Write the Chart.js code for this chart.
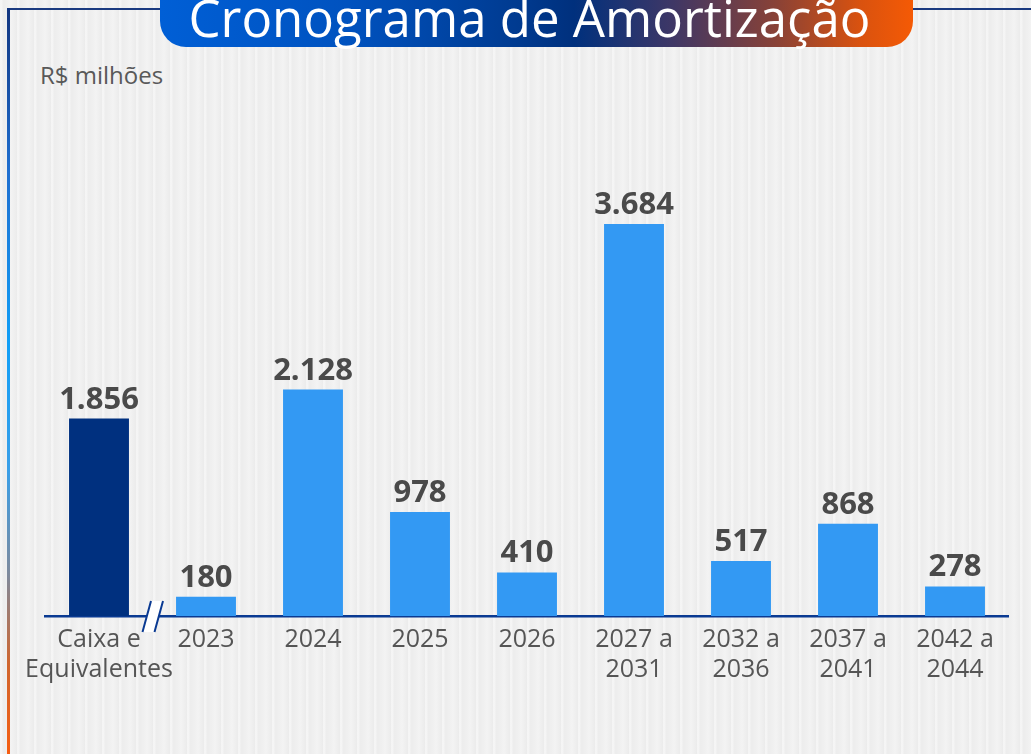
<!DOCTYPE html>
<html>
<head>
<meta charset="utf-8">
<script src="https://cdn.jsdelivr.net/npm/chart.js@4.4.0/dist/chart.umd.min.js"></script>
<style>
  html, body { margin: 0; padding: 0; }
  body {
    width: 1031px; height: 754px; overflow: hidden; position: relative;
    background-color: #efefef;
    background-image: repeating-linear-gradient(90deg, rgba(255,255,255,0.35) 0px, rgba(255,255,255,0.35) 2px, rgba(0,0,0,0.012) 3px, rgba(0,0,0,0.0) 7px, rgba(255,255,255,0.25) 11px, rgba(0,0,0,0.015) 17px);
    font-family: "Open Sans", sans-serif;
  }
  #frameTop { position: absolute; left: 8px; top: 8px; width: 1023px; height: 2px; background: #1a3a80; }
  #frameLeft { position: absolute; left: 7px; top: 8px; width: 3px; height: 746px;
    background: linear-gradient(180deg, #12357f 0%, #1f6fd0 22%, #119ff7 45%, #3a9fe8 62%, #7f8a9c 76%, #d0662f 88%, #f55e12 100%); }
  #pill { position: absolute; left: 160px; top: -40px; width: 753px; height: 87px; border-radius: 0 0 26px 26px;
    background: linear-gradient(90deg, #005fd6 0%, #0052bf 25%, #003a8f 48%, #00307d 55%, #3e3766 68%, #8a4236 82%, #d9520f 93%, #f55a05 100%);
    overflow: hidden; }
  #title { position: absolute; left: 153px; top: -15px; width: 753px; text-align: center; color: #ffffff;
    font-family: "Open Sans", sans-serif; font-size: 51px; line-height: 64px; white-space: nowrap; }
  #unit { position: absolute; left: 40px; top: 59px; color: #595959; font-size: 24px; line-height: 32px; }
  #c { position: absolute; left: 0; top: 0; }
</style>
</head>
<body>
<div id="frameTop"></div>
<div id="frameLeft"></div>
<div id="pill"></div>
<div id="title">Cronograma de Amortização</div>
<div id="unit">R$ milhões</div>
<canvas id="c" width="1031" height="754"></canvas>
<script>
const categories = [["Caixa e", "Equivalentes"], "2023", "2024", "2025", "2026", ["2027 a", "2031"], ["2032 a", "2036"], ["2037 a", "2041"], ["2042 a", "2044"]];
const values = [1856, 180, 2128, 978, 410, 3684, 517, 868, 278];
const barColors = ["#00307f", "#3399f3", "#3399f3", "#3399f3", "#3399f3", "#3399f3", "#3399f3", "#3399f3", "#3399f3"];

function fmt(v) { return String(v).replace(/\B(?=(\d{3})+(?!\d))/g, "."); }

const valueLabels = {
  id: "valueLabels",
  afterDatasetsDraw(chart) {
    const ctx = chart.ctx;
    const meta = chart.getDatasetMeta(0);
    ctx.save();
    ctx.font = "bold 31px 'Open Sans'";
    ctx.fillStyle = "#4a4a4a";
    ctx.textAlign = "center";
    ctx.textBaseline = "alphabetic";
    meta.data.forEach((bar, i) => {
      ctx.fillText(fmt(chart.data.datasets[0].data[i]), bar.x, bar.y - 10);
    });
    ctx.restore();
  }
};

const axisBreak = {
  id: "axisBreak",
  afterDraw(chart) {
    const xs = chart.scales.x;
    const ctx = chart.ctx;
    const bx = (xs.getPixelForValue(0) + xs.getPixelForValue(1)) / 2;
    const by = chart.chartArea.bottom;
    ctx.save();
    ctx.beginPath();
    ctx.moveTo(bx - 10, by + 16);
    ctx.lineTo(bx - 1.5, by - 15);
    ctx.lineTo(bx + 10.5, by - 15);
    ctx.lineTo(bx + 2, by + 16);
    ctx.closePath();
    ctx.fillStyle = "#ffffff";
    ctx.fill();
    ctx.strokeStyle = "#0a3a92";
    ctx.lineWidth = 2;
    ctx.beginPath();
    ctx.moveTo(bx - 10, by + 16); ctx.lineTo(bx - 1.5, by - 15);
    ctx.moveTo(bx + 2, by + 16); ctx.lineTo(bx + 10.5, by - 15);
    ctx.stroke();
    ctx.restore();
  }
};

new Chart(document.getElementById("c"), {
  type: "bar",
  data: {
    labels: categories,
    datasets: [{ data: values, backgroundColor: barColors, barPercentage: 0.56, categoryPercentage: 1.0 }]
  },
  options: {
    responsive: false,
    animation: false,
    layout: { padding: { left: 45.5, right: 22.5, top: 150, bottom: 0 } },
    plugins: { legend: { display: false }, tooltip: { enabled: false } },
    scales: {
      x: {
        afterFit(scale) { scale.height = 138; },
        grid: { display: false, drawTicks: false, tickLength: 0 },
        border: { display: true, color: "#0a3a92", width: 2.5 },
        ticks: { color: "#555555", padding: 9, maxRotation: 0, autoSkip: false,
          font: { family: "'Open Sans'", size: 25, lineHeight: 1.2 } }
      },
      y: { display: false, min: 0, max: 4380 }
    }
  },
  plugins: [valueLabels, axisBreak]
});
</script>
</body>
</html>
